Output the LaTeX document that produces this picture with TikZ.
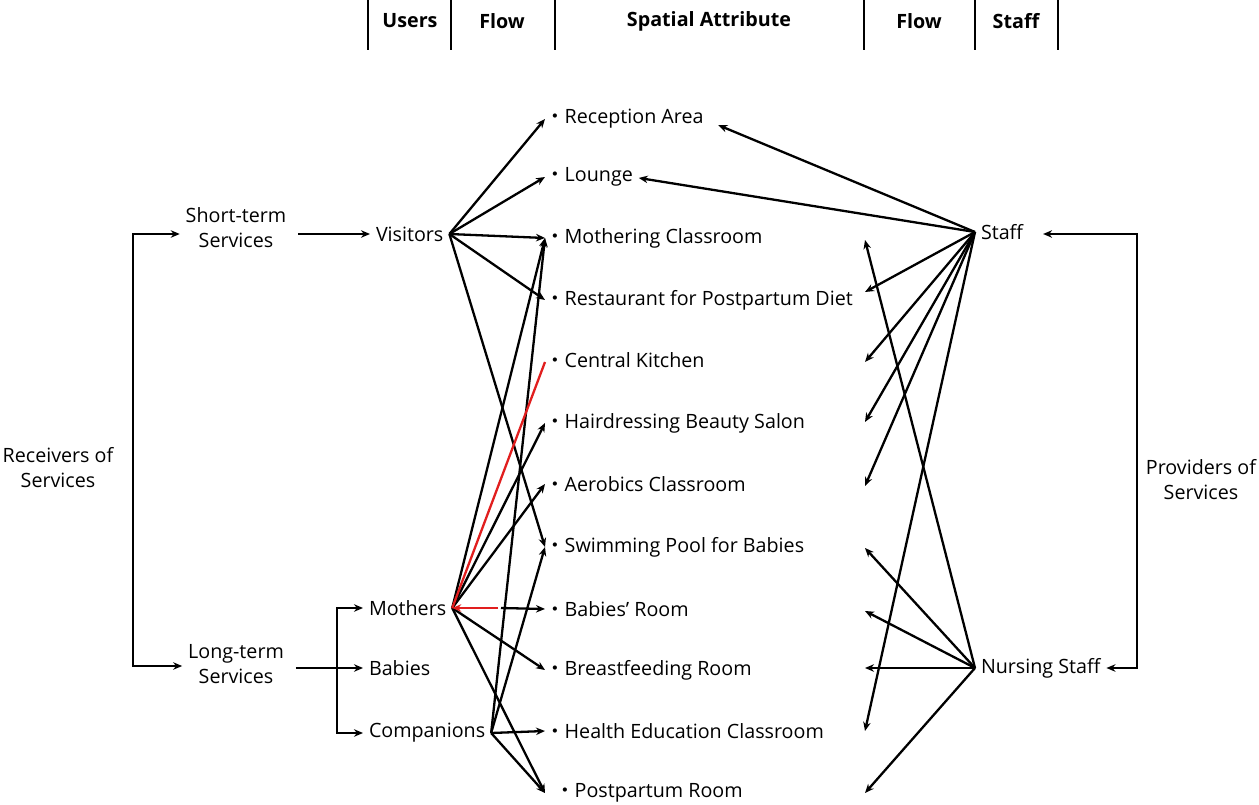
\documentclass[tikz,border=0pt]{standalone}
\usepackage{fontspec}
\setmainfont{Open Sans}
\newfontfamily\cjk{Noto Sans CJK JP}
\usetikzlibrary{arrows.meta}
\definecolor{myred}{RGB}{225,30,30}
\newcommand{\pdot}{{\cjk ・}}
\begin{document}
\begin{tikzpicture}[x=1pt,y=-1pt,line width=2.3pt,
  font=\fontsize{19.7}{25}\selectfont,
  lab/.style={inner sep=0pt,outer sep=6pt},
  place/.style={inner sep=0pt,outer sep=0pt,anchor=west},
  arr/.style={-{Stealth[length=9pt,width=7.5pt]}},
  hd/.style={font=\fontsize{19.7}{25}\selectfont\bfseries,inner sep=0pt},
  sep/.style={line width=2.6pt}]
\useasboundingbox (0,0) rectangle (1259,805);

% header
\foreach \x in {368,451,555,864,975,1058} \draw[sep] (\x,0) -- (\x,50);
\node[hd] (h1) at (410,21) {Users};
\node[hd] (h2) at (502,21) {Flow};
\node[hd] (h3) at (709,21) {Spatial Attribute};
\node[hd] (h4) at (919,21) {Flow};
\node[hd] (h5) at (1016,21) {Staff};

% places
\node[place] (p1) at (545,119) {\pdot Reception Area};
\node[place] (p2) at (545,177) {\pdot Lounge};
\node[place] (p3) at (545,238) {\pdot Mothering Classroom};
\node[place] (p4) at (545,300) {\pdot Restaurant for Postpartum Diet};
\node[place] (p5) at (545,360) {\pdot Central Kitchen};
\node[place] (p6) at (545,423) {\pdot Hairdressing Beauty Salon};
\node[place] (p7) at (545,484) {\pdot Aerobics Classroom};
\node[place] (p8) at (545,547) {\pdot Swimming Pool for Babies};
\node[place] (p9) at (545,609) {\pdot Babies’ Room};
\node[place] (p10) at (545,670) {\pdot Breastfeeding Room};
\node[place] (p11) at (545,731) {\pdot Health Education Classroom};
\node[place] (p12) at (545,793) {\hspace{10pt}\pdot Postpartum Room};

% users
\node[lab,anchor=west] (vis) at (370,234) {Visitors};
\node[lab,anchor=west] (mo) at (363,608) {Mothers};
\node[lab,anchor=west] (ba) at (363,668) {Babies};
\node[lab,anchor=west] (co) at (363,733) {Companions};
\node[lab,align=center] (st) at (236,228) {Short-term\\Services};
\node[lab,align=center] (lt) at (236,664) {Long-term\\Services};
\node[lab,align=center] (rcv) at (58,468) {Receivers of\\Services};

% staff
\node[lab,anchor=west] (staff) at (975,232) {Staff};
\node[lab,anchor=west] (ns) at (975,668) {Nursing Staff};
\node[lab,align=center] (prov) at (1201,480) {Providers of\\Services};

% left brackets
\coordinate (bt) at (133,234);
\coordinate (bb) at (133,666);
\draw[arr] (bb) -- (bt) -- (st.west |- bt);
\draw[arr] (bt) -- (bb) -- (lt.west |- bb);
\draw[arr,shorten <=6pt] (st.east |- vis) -- (vis.west);
\coordinate (lx) at (337,668);
\draw[arr,shorten <=6pt] (lt.east |- lx) -- (ba.west);
\draw[arr] (lx) |- (mo.west);
\draw[arr] (lx) |- (co.west);

% right bracket
\coordinate (rt) at (1137,234);
\coordinate (rb) at (1137,668);
\draw[arr,shorten >=14pt] (rb) -- (rt) -- (staff.east |- rt);
\draw[arr] (rt) -- (rb) -- (ns.east |- rb);

% visitors flows
\foreach \p in {p1,p2,p3,p4,p8} \draw[arr] (vis.east) -- (\p.west);
% mothers flows
\foreach \p in {p3,p6,p7,p10,p12} \draw[arr] (mo.east) -- (\p.west);
\coordinate (bm) at (501,608);
\draw[arr] (bm) -- (p9.west);
% companions flows
\foreach \p in {p3,p8,p11,p12} \draw[arr] (co.east) -- (\p.west);
% red flows
\draw[myred] ([yshift=-2pt]p5.west) -- (mo.east);
\coordinate (rm) at (498,608);
\draw[arr,myred] (rm) -- (mo.east);

% staff side endpoints
\coordinate (q3) at (865,240);
\coordinate (q4) at (865,292);
\coordinate (q5) at (865,362);
\coordinate (q6) at (865,422);
\coordinate (q7) at (865,486);
\coordinate (q8) at (865,548);
\coordinate (q9) at (865,611);
\coordinate (q10) at (865,668);
\coordinate (q11) at (865,731);
\coordinate (q12) at (865,793);

\draw[arr,shorten >=16pt] (staff.west) -- (p1.east);
\draw[arr,shorten >=6pt] (staff.west) -- (p2.east);
\foreach \q in {q4,q5,q6,q7,q11} \draw[arr] (staff.west) -- (\q);
\foreach \q in {q3,q8,q9,q10,q12} \draw[arr] (ns.west) -- (\q);
\end{tikzpicture}
\end{document}
